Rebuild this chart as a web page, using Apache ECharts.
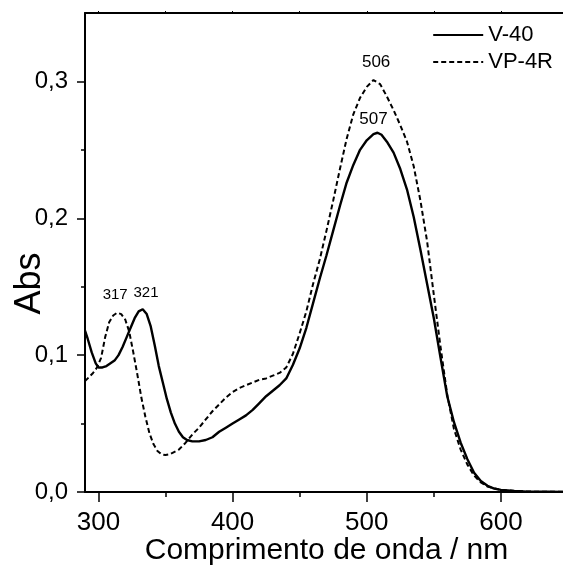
<!DOCTYPE html>
<html>
<head>
<meta charset="utf-8">
<script src="https://cdn.jsdelivr.net/npm/echarts@6/dist/echarts.min.js"></script>
<style>
    html, body { margin: 0; padding: 0; background: #fff; }
    #absChart { width: 563px; height: 567px; }
</style>
</head>
<body>
<div id="absChart"></div>
<script>
// wavelength (nm) / absorbance
var v40Wave = [290, 292, 295, 298, 300, 303, 306, 309, 312, 315, 318, 321, 324, 327, 330, 333, 336, 339, 342, 345,
    348, 351, 354, 357, 360, 363, 366, 370, 375, 380, 385, 390, 395, 400, 405, 410, 415, 420, 425, 430,
    435, 440, 445, 450, 455, 460, 465, 470, 475, 480, 485, 490, 495, 500, 505, 508, 511, 515, 520, 525,
    530, 535, 540, 545, 550, 555, 560, 565, 570, 575, 580, 585, 590, 595, 600, 610, 620, 635, 650];
var v40Abs = [0.118, 0.112, 0.102, 0.094, 0.091, 0.091, 0.092, 0.094, 0.096, 0.100, 0.106, 0.113, 0.120, 0.127, 0.132, 0.1335, 0.130, 0.121, 0.107, 0.092,
    0.080, 0.068, 0.058, 0.050, 0.044, 0.040, 0.038, 0.037, 0.037, 0.038, 0.040, 0.044, 0.047, 0.050, 0.053, 0.056, 0.060, 0.065, 0.070, 0.074,
    0.078, 0.083, 0.093, 0.105, 0.120, 0.138, 0.156, 0.173, 0.191, 0.209, 0.226, 0.239, 0.250, 0.257, 0.2615, 0.2625, 0.261, 0.256, 0.248, 0.236,
    0.221, 0.201, 0.177, 0.152, 0.127, 0.098, 0.070, 0.051, 0.036, 0.024, 0.014, 0.008, 0.0045, 0.0025, 0.0015, 0.0007, 0.0003, 0.0002, 0.0001];

var vp4rWave = [290, 293, 296, 299, 302, 305, 308, 311, 314, 317, 320, 323, 326, 329, 332, 335, 338, 341, 344, 347,
    350, 353, 356, 360, 365, 370, 375, 380, 385, 390, 395, 400, 405, 410, 415, 420, 425, 430, 435, 440,
    445, 450, 455, 460, 465, 470, 475, 480, 485, 490, 495, 500, 505, 510, 515, 520, 525, 530, 535, 540,
    545, 550, 555, 560, 565, 570, 575, 580, 585, 590, 600, 610, 620, 635, 650];
var vp4rAbs = [0.081, 0.084, 0.087, 0.091, 0.098, 0.113, 0.124, 0.129, 0.131, 0.130, 0.126, 0.117, 0.102, 0.086, 0.069, 0.055, 0.043, 0.035, 0.030, 0.0275,
    0.027, 0.0275, 0.029, 0.031, 0.036, 0.042, 0.047, 0.053, 0.059, 0.064, 0.069, 0.073, 0.076, 0.078, 0.080, 0.082, 0.083, 0.085, 0.087, 0.091,
    0.101, 0.116, 0.132, 0.152, 0.170, 0.191, 0.213, 0.236, 0.258, 0.276, 0.288, 0.296, 0.301, 0.298, 0.289, 0.279, 0.268, 0.256, 0.238, 0.213,
    0.183, 0.144, 0.106, 0.071, 0.046, 0.031, 0.020, 0.012, 0.007, 0.004, 0.0015, 0.0008, 0.0003, 0.0002, 0.0001];

var xMajorTicks = [300, 400, 500, 600];
var xMinorTicks = [350, 450, 550, 650];
var xTopTicks = [300, 350, 400, 450, 500, 550, 600, 650];
var yMajorTicks = [0, 0.1, 0.2, 0.3];
var yMinorTicks = [0.05, 0.15, 0.25];

// peak annotations: [text, wavelength, abs, fontSize]
var v40Notes = [['507', 505, 0.272, 17], ['321', 335.5, 0.1455, 15]];
var vp4rNotes = [['506', 507, 0.314, 17], ['317', 312.5, 0.144, 15]];

var font = 'Liberation Sans, Arial, sans-serif';

function pairs(xs, ys) {
    var out = [];
    for (var i = 0; i < xs.length; i++) {
        out.push([xs[i], ys[i]]);
    }
    return out;
}

function noteMarks(notes) {
    return {
        symbol: 'circle',
        symbolSize: 0,
        silent: true,
        animation: false,
        label: {
            show: true,
            position: 'inside',
            color: '#000',
            fontFamily: font,
            formatter: function (p) { return p.name; }
        },
        data: notes.map(function (n) {
            return { name: n[0], coord: [n[1], n[2]], label: { fontSize: n[3] } };
        })
    };
}

function commaLabel(v) {
    return v.toFixed(1).replace('.', ',');
}

var baseX = { type: 'value', min: 290, max: 650, gridIndex: 0 };
var baseY = { type: 'value', min: 0, max: 0.35, gridIndex: 0 };

var options = {
    animation: false,
    backgroundColor: '#fff',
    grid: { left: 85, top: 13, bottom: 75, right: -5, containLabel: false, outerBoundsMode: 'none' },
    legend: {
        orient: 'vertical',
        right: 5,
        top: 19,
        itemWidth: 50,
        itemHeight: 14,
        itemGap: 5,
        itemStyle: { opacity: 0 },
        textStyle: { fontSize: 22, color: '#000', fontFamily: font },
        data: ['V-40', 'VP-4R']
    },
    xAxis: [
        Object.assign({}, baseX, {
            position: 'bottom',
            name: 'Comprimento de onda / nm',
            nameLocation: 'middle',
            nameGap: 44,
            nameMoveOverlap: false,
            nameTextStyle: { fontSize: 30, color: '#000', fontFamily: font },
            axisLine: { show: true, onZero: false, lineStyle: { color: '#000', width: 2 } },
            axisTick: { show: true, inside: false, length: 10, customValues: xMajorTicks, lineStyle: { color: '#000', width: 1.5 } },
            axisLabel: { customValues: xMajorTicks, margin: 18, fontSize: 26, color: '#000', fontFamily: font },
            splitLine: { show: false }
        }),
        Object.assign({}, baseX, {
            position: 'bottom',
            axisLine: { show: false, onZero: false },
            axisTick: { show: true, length: 5, customValues: xMinorTicks, lineStyle: { color: '#000', width: 1.5 } },
            axisLabel: { show: false },
            splitLine: { show: false }
        }),
        Object.assign({}, baseX, {
            position: 'top',
            axisLine: { show: true, onZero: false, lineStyle: { color: '#000', width: 2 } },
            axisTick: { show: true, length: 2, customValues: xTopTicks, lineStyle: { color: '#000', width: 1 } },
            axisLabel: { show: false },
            splitLine: { show: false }
        })
    ],
    yAxis: [
        Object.assign({}, baseY, {
            position: 'left',
            name: 'Abs',
            nameLocation: 'middle',
            nameGap: 37,
            nameMoveOverlap: false,
            nameTextStyle: { fontSize: 36, color: '#000', fontFamily: font, padding: [0, 62, 0, 0] },
            axisLine: { show: true, onZero: false, lineStyle: { color: '#000', width: 2 } },
            axisTick: { show: true, inside: false, length: 8, customValues: yMajorTicks, lineStyle: { color: '#000', width: 1.5 } },
            axisLabel: { customValues: yMajorTicks, margin: 17, fontSize: 24, color: '#000', fontFamily: font, formatter: commaLabel },
            splitLine: { show: false }
        }),
        Object.assign({}, baseY, {
            position: 'left',
            axisLine: { show: false, onZero: false },
            axisTick: { show: true, length: 4, customValues: yMinorTicks, lineStyle: { color: '#000', width: 1.5 } },
            axisLabel: { show: false },
            splitLine: { show: false }
        })
    ],
    series: [
        {
            type: 'line',
            name: 'V-40',
            xAxisIndex: 0,
            yAxisIndex: 0,
            symbol: 'none',
            smooth: false,
            lineStyle: { color: '#000', width: 2.4, type: 'solid' },
            itemStyle: { color: '#000' },
            data: pairs(v40Wave, v40Abs),
            markPoint: noteMarks(v40Notes)
        },
        {
            type: 'line',
            name: 'VP-4R',
            xAxisIndex: 0,
            yAxisIndex: 0,
            symbol: 'none',
            smooth: false,
            lineStyle: { color: '#000', width: 2, type: [5, 3] },
            itemStyle: { color: '#000' },
            data: pairs(vp4rWave, vp4rAbs),
            markPoint: noteMarks(vp4rNotes)
        }
    ]
};

var chartObj = echarts.init(document.getElementById('absChart'));
chartObj.setOption(options);
</script>
</body>
</html>
